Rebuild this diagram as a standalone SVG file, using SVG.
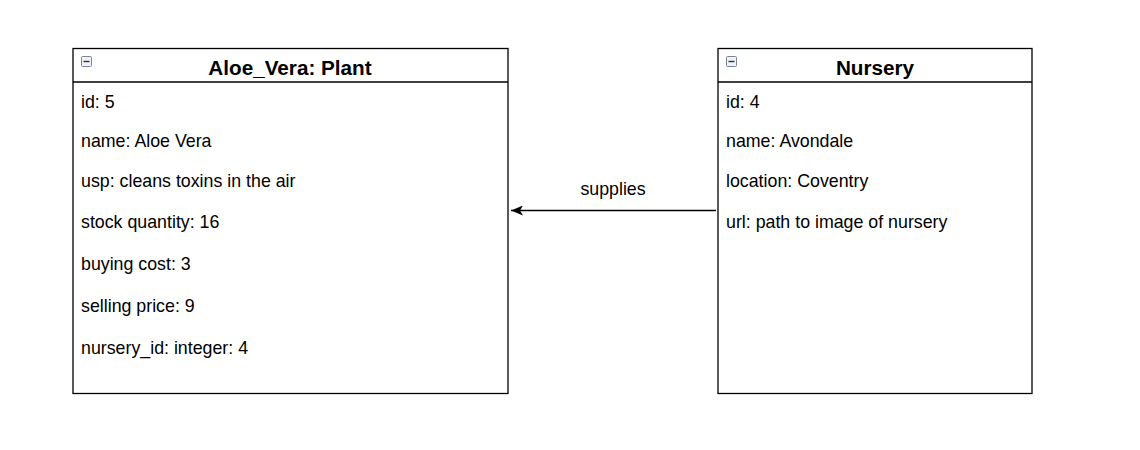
<svg xmlns="http://www.w3.org/2000/svg" width="1140" height="450" viewBox="0 0 1140 450">
<style>
.box{fill:#fff;stroke:#000;stroke-width:1.3}
.title{font-family:"Liberation Sans",Arial,sans-serif;font-size:20.7px;font-weight:bold;text-anchor:middle}
.attr{font-family:"Liberation Sans",Arial,sans-serif;font-size:17.8px}
.lbl{font-family:"Liberation Sans",Arial,sans-serif;font-size:17.8px;text-anchor:middle}
.icon{fill:#eef1f5;stroke:#7a8593;stroke-width:1}
</style>
<defs>
<marker id="arr" viewBox="0 0 12 10" refX="12" refY="5" markerWidth="12" markerHeight="10" markerUnits="userSpaceOnUse" orient="auto">
<path d="M0,0 L12,5 L0,10 L3,5 Z" fill="#000"/>
</marker>
</defs>
<rect width="1140" height="450" fill="#fff"/>
<g id="plant">
<rect class="box" x="73" y="48.5" width="435" height="345"/>
<line x1="73" y1="82" x2="508" y2="82" stroke="#000" stroke-width="1.3"/>
<rect class="icon" x="81.5" y="56.5" width="10" height="10" rx="1"/>
<line x1="83.5" y1="61.5" x2="89.5" y2="61.5" stroke="#333" stroke-width="1.4"/>
<text class="title" x="290" y="75">Aloe_Vera: Plant</text>
<text class="attr" x="81" y="108">id: 5</text>
<text class="attr" x="81" y="147">name: Aloe Vera</text>
<text class="attr" x="81" y="187">usp: cleans toxins in the air</text>
<text class="attr" x="81" y="228">stock quantity: 16</text>
<text class="attr" x="81" y="270">buying cost: 3</text>
<text class="attr" x="81" y="312">selling price: 9</text>
<text class="attr" x="81" y="354">nursery_id: integer: 4</text>
</g>
<g id="nursery">
<rect class="box" x="718" y="48.5" width="314" height="345"/>
<line x1="718" y1="82" x2="1032" y2="82" stroke="#000" stroke-width="1.3"/>
<rect class="icon" x="726.5" y="56.5" width="10" height="10" rx="1"/>
<line x1="728.5" y1="61.5" x2="734.5" y2="61.5" stroke="#333" stroke-width="1.4"/>
<text class="title" x="875" y="75">Nursery</text>
<text class="attr" x="726" y="108">id: 4</text>
<text class="attr" x="726" y="147">name: Avondale</text>
<text class="attr" x="726" y="187">location: Coventry</text>
<text class="attr" x="726" y="228">url: path to image of nursery</text>
</g>
<g id="connectors">
<line x1="716" y1="210.5" x2="511" y2="210.5" stroke="#000" stroke-width="1.3" marker-end="url(#arr)"/>
<text class="lbl" x="613" y="195">supplies</text>
</g>
</svg>
